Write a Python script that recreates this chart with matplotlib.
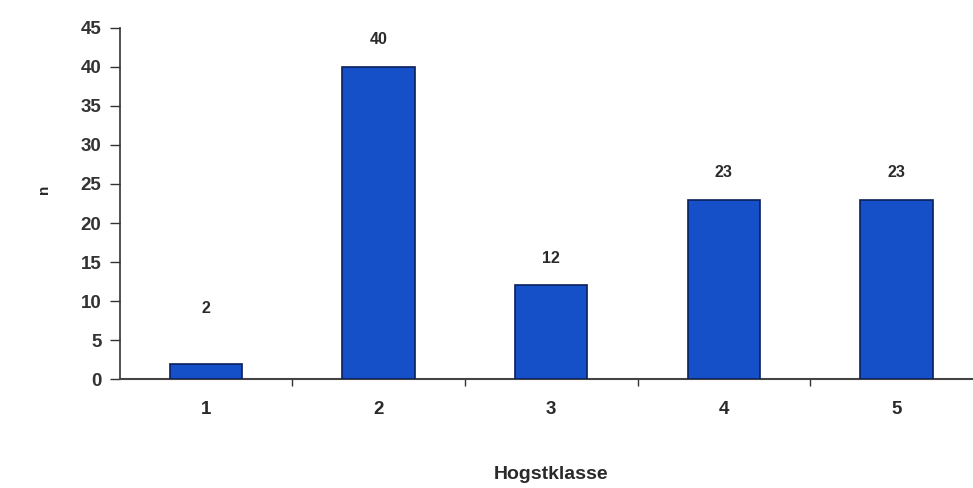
import matplotlib.pyplot as plt

plt.rcParams['font.family'] = ['Liberation Sans', 'DejaVu Sans']

klasser = ['1', '2', '3', '4', '5']
antall = [2, 40, 12, 23, 23]

fig = plt.figure(figsize=(9.73, 4.88), dpi=100)
ax = fig.add_axes([0.123, 0.223, 0.887, 0.72])

x = range(len(klasser))
ax.bar(x, antall, width=0.42, color='#1550c8', edgecolor='#0b1f5a', linewidth=1.2, zorder=3)

for i, v in zip(x, antall):
    ax.text(i, max(v, 5.5) + 3.5, str(v), ha='center', va='center',
            fontsize=11.5, fontweight='bold', color='#2a2a2a')

ax.set_xlim(-0.5, len(klasser) - 0.5)
ax.set_ylim(0, 45)
ax.set_yticks(range(0, 46, 5))
ax.set_yticklabels([str(t) for t in range(0, 46, 5)], fontsize=13.5, fontweight='bold', color='#2a2a2a')
ax.tick_params(axis='y', length=7, width=1, colors='#333333', pad=6)

# category labels centred, tick marks between categories
ax.set_xticks([i + 0.5 for i in range(len(klasser) - 1)])
ax.set_xticklabels([])
ax.set_xticks(list(x), minor=True)
ax.set_xticklabels(klasser, minor=True, fontsize=13.5, fontweight='bold', color='#2a2a2a')
ax.tick_params(axis='x', which='major', length=5, width=1, colors='#333333')
ax.tick_params(axis='x', which='minor', length=0, pad=16)

ax.spines['top'].set_visible(False)
ax.spines['right'].set_visible(False)
ax.spines['left'].set_color('#333333')
ax.spines['bottom'].set_color('#444444')
ax.spines['left'].set_linewidth(1.2)
ax.spines['bottom'].set_linewidth(1.5)

ax.set_xlabel('Hogstklasse', fontsize=14, fontweight='bold', color='#2a2a2a', labelpad=34)
ax.set_ylabel('n', fontsize=11, fontweight='bold', color='#2a2a2a')
ax.yaxis.set_label_coords(-0.08, 0.54)

fig.savefig('out.png', dpi=100)
